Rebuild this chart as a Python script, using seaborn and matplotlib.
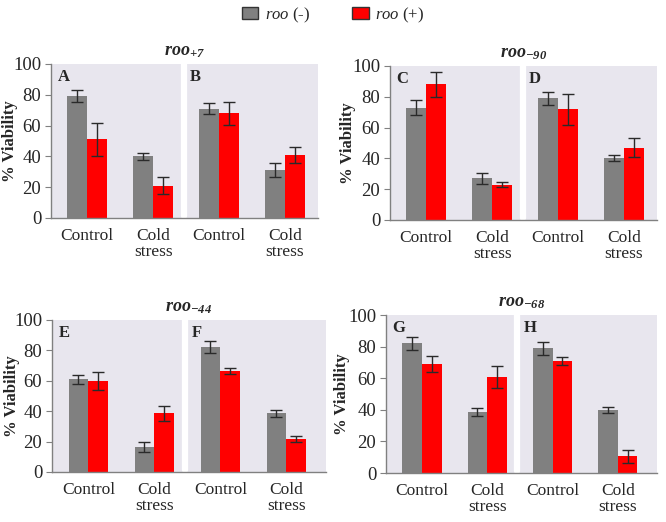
import matplotlib
matplotlib.use("Agg")
import matplotlib.pyplot as plt
import seaborn as sns
import pandas as pd

# each panel: two experiments (left / right half), each with Control and Cold stress
GROUPS = ["Control", "Cold\nstress"]
SERIES = ["roo (-)", "roo (+)"]
TITLES = [r"$\mathbf{roo_{+7}}$", r"$\mathbf{roo_{-90}}$", r"$\mathbf{roo_{-44}}$", r"$\mathbf{roo_{-68}}$"]
LETTERS = [("A", "B"), ("C", "D"), ("E", "F"), ("G", "H")]

# order per panel: [left Control, left Cold, right Control, right Cold]
roo_minus = [
  [79, 40, 71, 31],
  [73, 27, 79, 40],
  [61, 16.5, 82, 38.5],
  [82, 38.5, 79, 40],
]
roo_minus_err = [
  [4, 2.5, 3.5, 4.5],
  [5, 3.5, 4, 2],
  [3, 3.5, 4, 2.5],
  [4, 2.5, 4, 2],
]
roo_plus = [
  [51, 21, 68, 41],
  [88, 23, 72, 47],
  [60, 38.5, 66.5, 22],
  [69, 61, 71, 10.5],
]
roo_plus_err = [
  [11, 5.5, 7.5, 5],
  [8, 1.5, 10, 6],
  [6, 5, 2, 2],
  [5, 7, 2.5, 4],
]

sns.set_style("white")
plt.rcParams["font.family"] = ["Liberation Serif", "DejaVu Serif"]
plt.rcParams["mathtext.fontset"] = "custom"
plt.rcParams["mathtext.rm"] = "Liberation Serif"
plt.rcParams["mathtext.it"] = "Liberation Serif:italic"
plt.rcParams["mathtext.bf"] = "Liberation Serif:italic:bold"

colors = {"roo (-)": "#808080", "roo (+)": "#ff0000"}
bg = "#e8e6ee"

fig = plt.figure(figsize=(6.66, 5.22), dpi=100)
W, H = 666, 522
# panel boxes in pixels: left, top, right, bottom
boxes = [(51, 64, 318, 218), (390, 66, 657, 220), (52, 320, 326, 472), (386, 315, 657, 473)]
# right edge of the rotated y label, in pixels
ylabel_x = [18, 356, 20, 350]

cats = ["c0", "c1", "c2", "c3"]
tick_labels = GROUPS * 2

for i, (l, t, r, b) in enumerate(boxes):
  ax = fig.add_axes([l / W, 1 - b / H, (r - l) / W, (b - t) / H])
  df = pd.DataFrame({
    "cat": cats * 2,
    "series": [SERIES[0]] * 4 + [SERIES[1]] * 4,
    "value": roo_minus[i] + roo_plus[i],
  })
  sns.barplot(data=df, x="cat", y="value", hue="series", order=cats, hue_order=SERIES,
              palette=colors, width=0.6, errorbar=None, ax=ax, legend=False,
              saturation=1, linewidth=0)
  errs = roo_minus_err[i] + roo_plus_err[i]
  for patch, val, err in zip(ax.patches, roo_minus[i] + roo_plus[i], errs):
    xc = patch.get_x() + patch.get_width() / 2
    ax.errorbar(xc, val, yerr=err, color="#2a2a2a", capsize=4.5, elinewidth=1, capthick=1)
  ax.set_facecolor(bg)
  ax.axvline(1.46, ymin=0.015, color="white", lw=4.5)
  ax.set_xlim(-0.55, 3.5 if i < 2 else 3.6)
  ax.set_ylim(0, 100)
  ax.set_yticks([0, 20, 40, 60, 80, 100])
  ax.set_xticks(range(4))
  ax.set_xticklabels(tick_labels, fontsize=12.5, linespacing=1.0)
  ax.tick_params(axis="y", labelsize=13.5, length=4, width=0.8, color="#808080", left=True, pad=3)
  ax.tick_params(axis="x", length=0, pad=7)
  ax.set_xlabel("")
  ax.set_ylabel("% Viability", fontsize=12, fontweight="bold")
  ax.yaxis.set_label_coords((ylabel_x[i] - l) / (r - l), 0.5)
  for s in ["top", "right"]:
    ax.spines[s].set_visible(False)
  for s in ["left", "bottom"]:
    ax.spines[s].set_color("#808080")
    ax.spines[s].set_linewidth(1)
  ax.text(-0.45, 97, LETTERS[i][0], fontsize=12, fontweight="bold", va="top", ha="left")
  ax.text(1.56, 97, LETTERS[i][1], fontsize=12, fontweight="bold", va="top", ha="left")
  ax.set_title(TITLES[i], fontsize=13, pad=6)

handles = [plt.Rectangle((0, 0), 1, 1, facecolor=colors[s], edgecolor="#333333", lw=1) for s in SERIES]
labels = [r"$\mathit{roo}$ (-)", r"$\mathit{roo}$ (+)"]
fig.legend(handles, labels, loc="center", bbox_to_anchor=(0.5, 1 - 15 / H), ncol=2, frameon=False,
           fontsize=12, handlelength=1.0, handleheight=0.75, columnspacing=2.5, handletextpad=0.4)

fig.savefig("out.png", dpi=100)
